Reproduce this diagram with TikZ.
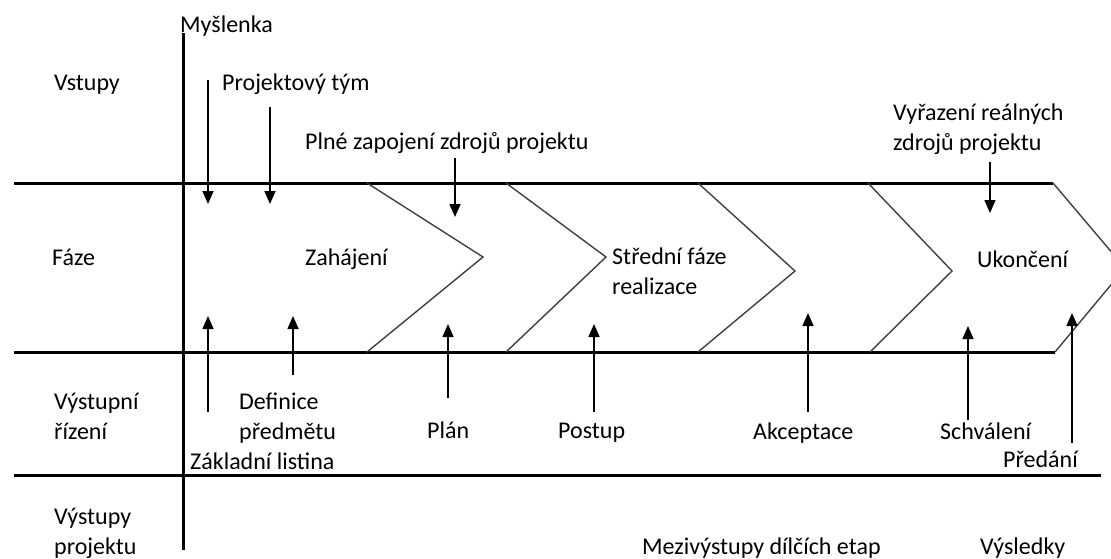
\documentclass[tikz,border=0pt]{standalone}
\usepackage{fontspec}
\setmainfont{Carlito}
\usetikzlibrary{arrows.meta}
\begin{document}
\begin{tikzpicture}[x=1pt,y=-1pt,
  lbl/.style={anchor=base west,inner sep=0pt,font=\fontsize{24}{29.5}\selectfont,align=left},
  thickline/.style={line width=3pt,black},
  chev/.style={line width=1.4pt,black!75},
  arr/.style={line width=1.6pt,-{Triangle[width=11pt,length=13pt]}}]
\useasboundingbox (0,0) rectangle (1111,558);
\clip (0,0) rectangle (1111,558);
% main lines
\draw[thickline] (14,183) -- (1053,183);
\draw[thickline] (14,352) -- (1055,352);
\draw[thickline] (14,475) -- (1101,475);
\draw[thickline] (183,33) -- (183,550);
% chevrons
\draw[chev] (367,183) -- (483,257) -- (367,352);
\draw[chev] (506,183) -- (606,257) -- (506,352);
\draw[chev] (698,183) -- (795,271) -- (698,352);
\draw[chev] (868,183) -- (952,271) -- (870,352);
\draw[chev] (1053,183) -- (1125,268) -- (1055,352);
% labels (multi-line nodes: base = baseline of last line)
\node[lbl] (mys) at (180,32) {Myšlenka};
\node[lbl] (vst) at (54,90) {Vstupy};
\node[lbl] (pt) at (222,90) {Projektový tým};
\node[lbl] (plne) at (305,149) {Plné zapojení zdrojů projektu};
\node[lbl] (vyr) at (893,150) {Vyřazení reálných\\zdrojů projektu};
\node[lbl] (faze) at (52,265) {Fáze};
\node[lbl] (zah) at (305,265) {Zahájení};
\node[lbl] (str) at (612,294) {Střední fáze\\realizace};
\node[lbl] (uko) at (977,267) {Ukončení};
\node[lbl] (vyri) at (54,439) {Výstupní\\řízení};
\node[lbl] (def) at (239,439) {Definice\\předmětu};
\node[lbl] (zakl) at (190,469) {Základní listina};
\node[lbl] (plan) at (427,438) {Plán};
\node[lbl] (post) at (558,438) {Postup};
\node[lbl] (akc) at (753,439) {Akceptace};
\node[lbl] (schv) at (940,439) {Schválení};
\node[lbl] (pred) at (1003,467) {Předání};
\node[lbl] (vyp) at (54,554) {Výstupy\\projektu};
\node[lbl] (mezi) at (642,554) {Mezivýstupy dílčích etap};
\node[lbl] (vysl) at (980,554) {Výsledky};
% arrow endpoints
\coordinate (d1s) at (208,80);   \coordinate (d1e) at (208,204);
\coordinate (d2s) at (270,107);  \coordinate (d2e) at (270,204);
\coordinate (d3s) at (455,158);  \coordinate (d3e) at (455,217);
\coordinate (d4s) at (990,162);  \coordinate (d4e) at (990,213);
\coordinate (u1s) at (208,412);  \coordinate (u1e) at (208,316);
\coordinate (u2s) at (293,375);  \coordinate (u2e) at (293,316);
\coordinate (u3s) at (448,398);  \coordinate (u3e) at (448,324);
\coordinate (u4s) at (594,412);  \coordinate (u4e) at (594,324);
\coordinate (u5s) at (808,412);  \coordinate (u5e) at (808,313);
\coordinate (u6s) at (968,420);  \coordinate (u6e) at (968,326);
\coordinate (u7s) at (1072,443); \coordinate (u7e) at (1072,313);
\foreach \a in {d1,d2,d3,d4,u1,u2,u3,u4,u5,u6,u7}
  \draw[arr] (\a s) -- (\a e);
\end{tikzpicture}
\end{document}
